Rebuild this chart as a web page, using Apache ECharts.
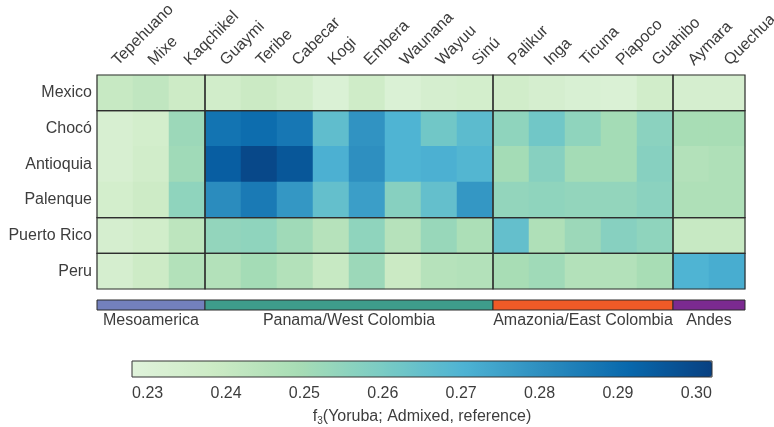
<!DOCTYPE html>
<html>
<head>
<meta charset="utf-8">
<script src="https://cdn.jsdelivr.net/npm/echarts@6/dist/echarts.min.js"></script>
<style>
  html, body { margin: 0; padding: 0; background: #ffffff; }
  #chart { width: 774px; height: 427px; }
</style>
</head>
<body>
<div id="chart"></div>
<script>
// Admixed populations (rows) and Native American reference populations (columns)
const regions = ['Mexico', 'Chocó', 'Antioquia', 'Palenque', 'Puerto Rico', 'Peru'];
const populations = ['Tepehuano', 'Mixe', 'Kaqchikel', 'Guaymi', 'Teribe', 'Cabecar', 'Kogi',
  'Embera', 'Waunana', 'Wayuu', 'Sinú', 'Palikur', 'Inga', 'Ticuna', 'Piapoco', 'Guahibo',
  'Aymara', 'Quechua'];

// f3(Yoruba; Admixed, reference) per row, in column order
const f3Mexico     = [0.240, 0.242, 0.238, 0.236, 0.239, 0.236, 0.231, 0.237, 0.231, 0.234, 0.235, 0.236, 0.234, 0.232, 0.231, 0.236, 0.234, 0.234];
const f3Choco      = [0.233, 0.235, 0.252, 0.288, 0.290, 0.287, 0.266, 0.279, 0.270, 0.262, 0.267, 0.255, 0.262, 0.255, 0.250, 0.256, 0.249, 0.249];
const f3Antioquia  = [0.233, 0.236, 0.251, 0.294, 0.300, 0.296, 0.271, 0.280, 0.270, 0.271, 0.269, 0.250, 0.257, 0.250, 0.250, 0.257, 0.246, 0.247];
const f3Palenque   = [0.235, 0.238, 0.255, 0.281, 0.286, 0.278, 0.265, 0.276, 0.257, 0.265, 0.278, 0.254, 0.255, 0.254, 0.254, 0.256, 0.247, 0.247];
const f3PuertoRico = [0.234, 0.236, 0.243, 0.254, 0.255, 0.251, 0.245, 0.255, 0.245, 0.253, 0.248, 0.265, 0.247, 0.252, 0.257, 0.255, 0.240, 0.240];
const f3Peru       = [0.234, 0.238, 0.246, 0.246, 0.250, 0.246, 0.240, 0.252, 0.239, 0.245, 0.246, 0.249, 0.251, 0.246, 0.246, 0.249, 0.270, 0.272];

// Row blocks (Mexico | Colombia | Puerto Rico | Peru) and column groups
const rowBlockSizes = [1, 3, 1, 1];
const groupNames = ['Mesoamerica', 'Panama/West Colombia', 'Amazonia/East Colombia', 'Andes'];
const groupSizes = [3, 8, 5, 2];
const groupColors = ['#7380bd', '#3e9d8b', '#ef5a27', '#7b2a90'];

// Colour scale
const scaleMin = 0.228;
const scaleMax = 0.302;
const scaleTicks = [0.23, 0.24, 0.25, 0.26, 0.27, 0.28, 0.29, 0.30];
const gnbu = ['#e0f3db', '#ccebc5', '#a8ddb5', '#7bccc4', '#4eb3d3', '#2b8cbe', '#0868ac', '#084081'];

const FONT = 'Liberation Sans, Arial, sans-serif';
const TEXT = '#3d3d3d';

const rows = [f3Mexico, f3Choco, f3Antioquia, f3Palenque, f3PuertoRico, f3Peru];
const cells = [];
rows.forEach((vals, r) => vals.forEach((v, c) => cells.push([c, r, v])));

function spans(sizes) {
  let s = 0;
  return sizes.map(n => { const o = [s, s + n - 1]; s += n; return o; });
}
const colSpans = spans(groupSizes);
const rowSpans = spans(rowBlockSizes);
const blocks = [];
rowSpans.forEach(rs => colSpans.forEach(cs => blocks.push([cs[0], cs[1], rs[0], rs[1]])));
const bands = colSpans.map((cs, i) => [cs[0], cs[1], i]);

const chart = echarts.init(document.getElementById('chart'), null, { renderer: 'canvas' });

chart.setOption({
  backgroundColor: '#ffffff',
  animation: false,
  textStyle: { fontFamily: FONT },
  grid: [
    { left: 97, top: 75, width: 648, height: 214, outerBoundsMode: 'none', containLabel: false },
    { left: 97, top: 300, width: 648, height: 10, outerBoundsMode: 'none', containLabel: false },
    { left: 132, top: 361, width: 580, height: 16, show: true, z: 10,
      outerBoundsMode: 'none', containLabel: false,
      backgroundColor: 'transparent', borderColor: '#333333', borderWidth: 1 }
  ],
  xAxis: [
    {
      gridIndex: 0, type: 'category', data: populations, position: 'top',
      axisLine: { show: false }, axisTick: { show: false }, splitLine: { show: false },
      axisLabel: { rotate: -45, interval: 0, margin: 12, fontSize: 16, color: TEXT, fontFamily: FONT }
    },
    { gridIndex: 1, type: 'category', data: populations, show: false },
    {
      gridIndex: 2, type: 'value', min: scaleMin, max: scaleMax,
      axisLine: { show: false }, axisTick: { show: false }, splitLine: { show: false },
      axisLabel: {
        customValues: scaleTicks, margin: 9, fontSize: 16, color: TEXT, fontFamily: FONT,
        formatter: v => v.toFixed(2)
      },
      name: '{a|f}{s|3}{a|(Yoruba; Admixed, reference)}',
      nameLocation: 'middle', nameGap: 31,
      nameTextStyle: {
        rich: {
          a: { fontSize: 16, color: TEXT, fontFamily: FONT, lineHeight: 18 },
          s: { fontSize: 10, color: TEXT, fontFamily: FONT, lineHeight: 10, verticalAlign: 'bottom' }
        }
      }
    }
  ],
  yAxis: [
    {
      gridIndex: 0, type: 'category', data: regions, inverse: true,
      axisLine: { show: false }, axisTick: { show: false }, splitLine: { show: false },
      axisLabel: { margin: 5, fontSize: 16, color: TEXT, fontFamily: FONT }
    },
    { gridIndex: 1, type: 'value', min: 0, max: 1, show: false },
    { gridIndex: 2, type: 'value', min: 0, max: 1, show: false }
  ],
  visualMap: {
    type: 'continuous', seriesIndex: 0, min: scaleMin, max: scaleMax,
    orient: 'horizontal', left: 132, top: 361, itemWidth: 16, itemHeight: 580,
    padding: 0, calculable: false, hoverLink: false, text: null,
    inRange: { color: gnbu }
  },
  series: [
    {
      type: 'heatmap', xAxisIndex: 0, yAxisIndex: 0, data: cells,
      itemStyle: { borderWidth: 0 }, emphasis: { disabled: true }
    },
    {
      // outlines of the population blocks
      type: 'custom', xAxisIndex: 0, yAxisIndex: 0, data: blocks, z: 5,
      encode: { x: [0, 1], y: [2, 3] },
      renderItem: (params, api) => {
        const a = api.coord([api.value(0), api.value(2)]);
        const b = api.coord([api.value(1), api.value(3)]);
        const sz = api.size([1, 1]);
        const x0 = Math.min(a[0], b[0]) - sz[0] / 2;
        const x1 = Math.max(a[0], b[0]) + sz[0] / 2;
        const y0 = Math.min(a[1], b[1]) - sz[1] / 2;
        const y1 = Math.max(a[1], b[1]) + sz[1] / 2;
        return {
          type: 'rect',
          shape: { x: x0, y: y0, width: x1 - x0, height: y1 - y0 },
          style: { fill: 'none', stroke: '#2e2e2e', lineWidth: 1.2 }
        };
      }
    },
    {
      // coloured group band with its labels
      type: 'custom', xAxisIndex: 1, yAxisIndex: 1, data: bands,
      encode: { x: [0, 1] },
      renderItem: (params, api) => {
        const cs = params.coordSys;
        const a = api.coord([api.value(0), 0]);
        const b = api.coord([api.value(1), 0]);
        const sz = api.size([1, 1]);
        const x0 = a[0] - sz[0] / 2;
        const x1 = b[0] + sz[0] / 2;
        const gi = api.value(2);
        return {
          type: 'group',
          children: [
            {
              type: 'rect',
              shape: { x: x0, y: cs.y, width: x1 - x0, height: cs.height },
              style: { fill: groupColors[gi], stroke: '#2a2a2a', lineWidth: 1 }
            },
            {
              type: 'text',
              style: {
                text: groupNames[gi], x: (x0 + x1) / 2, y: cs.y + cs.height + 3,
                align: 'center', verticalAlign: 'top',
                fontSize: 16, fontFamily: FONT, fill: TEXT
              }
            }
          ]
        };
      }
    }
  ]
});
</script>
</body>
</html>
